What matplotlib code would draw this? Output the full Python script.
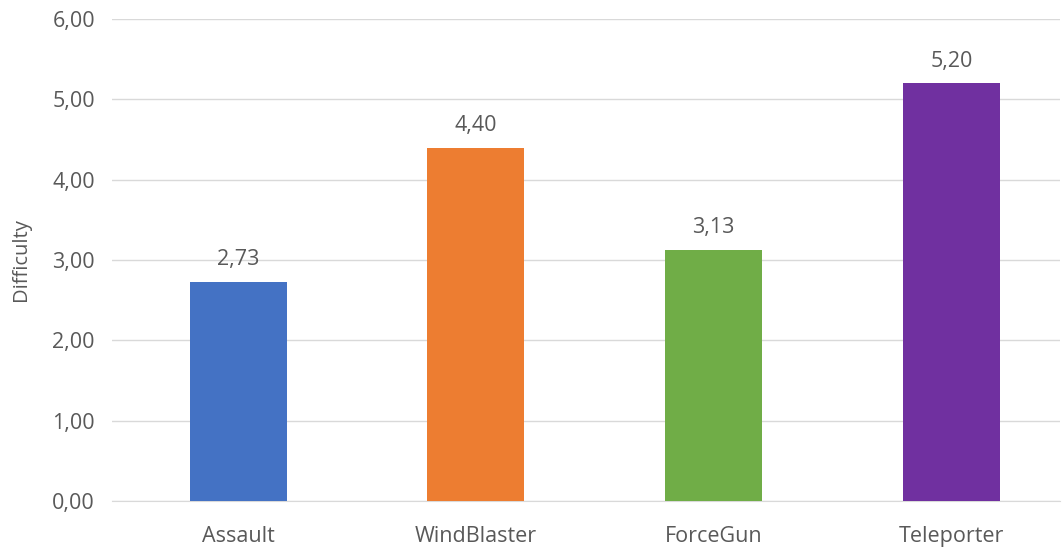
import matplotlib
matplotlib.use("Agg")
import matplotlib.pyplot as plt
from matplotlib.ticker import FuncFormatter

categories = ["Assault", "WindBlaster", "ForceGun", "Teleporter"]
values = [2.73, 4.40, 3.13, 5.20]
colors = ["#4472C4", "#ED7D31", "#70AD47", "#7030A0"]
yticks = [0, 1, 2, 3, 4, 5, 6]

plt.rcParams['font.family'] = ['Open Sans', 'DejaVu Sans']
txt = "#595959"
fs = 15.5

fig = plt.figure(figsize=(10.63, 5.52), dpi=100)
ax = fig.add_axes([0.105, 0.0924, 0.892, 0.8732])
x = list(range(len(categories)))
ax.bar(x, values, width=0.408, color=colors, zorder=3)
for xi, v in zip(x, values):
    ax.text(xi, v + 0.14, f"{v:.2f}".replace(".", ","), ha="center", va="bottom",
            fontsize=fs, color=txt, zorder=4)
ax.set_xlim(-0.532, 3.456)
ax.set_ylim(0, 6)
ax.set_yticks(yticks)
ax.yaxis.set_major_formatter(FuncFormatter(lambda v, p: f"{v:.2f}".replace(".", ",")))
ax.set_xticks(x)
ax.set_xticklabels(categories)
ax.tick_params(axis="both", length=0, labelsize=fs, labelcolor=txt)
ax.tick_params(axis="y", pad=12)
ax.tick_params(axis="x", pad=18)
ax.grid(axis="y", color="#D9D9D9", linewidth=1, zorder=0)
for s in ["top", "right", "left"]:
    ax.spines[s].set_visible(False)
ax.spines["bottom"].set_color("#D9D9D9")
ax.set_ylabel("Difficulty", fontsize=14.5, color=txt, labelpad=15)
fig.savefig("out.png", dpi=100)
